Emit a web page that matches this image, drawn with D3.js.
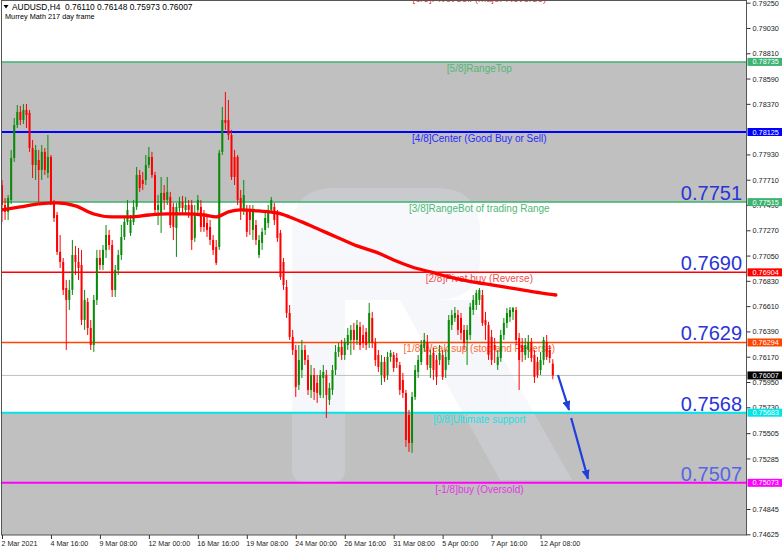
<!DOCTYPE html>
<html><head><meta charset="utf-8">
<script src="https://cdn.jsdelivr.net/npm/d3@7"></script>
<style>
html,body{margin:0;padding:0;background:#fff;}
svg{display:block;font-family:"Liberation Sans",Arial,sans-serif;}
</style></head><body>
<svg id="c" width="782" height="551"></svg>
<script>
// ---------- data ----------
const symbol = "AUDUSD,H4";
const lastOHLC = [0.76110, 0.76148, 0.75973, 0.76007];
const subtitle = "Murrey Math 217 day frame";

const opens = [
0.77664,0.77490,0.77430,0.77534,0.77899,0.78186,0.78300,0.78230,0.78317,0.78291,
0.77986,0.77838,0.77882,0.77795,0.77952,0.77769,0.77908,0.77517,0.77403,0.77082,
0.76995,0.76768,0.76664,0.76751,0.77055,0.76995,0.76968,0.76490,0.76647,0.76420,
0.76272,0.76664,0.77029,0.76968,0.77099,0.77229,0.77142,0.76751,0.76925,0.77055,
0.77212,0.77343,0.77247,0.77343,0.77473,0.77751,0.77708,0.77708,0.77838,0.77908,
0.77751,0.77447,0.77421,0.77595,0.77534,0.77560,0.77473,0.77290,0.77464,0.77517,
0.77447,0.77490,0.77490,0.77203,0.77447,0.77473,0.77386,0.77334,0.77299,0.77186,
0.77125,0.77125,0.77952,0.78230,0.78230,0.78099,0.77908,0.77908,0.77551,0.77447,
0.77447,0.77447,0.77273,0.77316,0.77055,0.77160,0.77273,0.77334,0.77447,0.77473,
0.77421,0.77247,0.76995,0.76777,0.76551,0.76342,0.76229,0.75924,0.76055,0.76229,
0.76142,0.75881,0.76011,0.75942,0.75837,0.75985,0.76011,0.75794,0.75881,0.76055,
0.76212,0.76255,0.76185,0.76272,0.76316,0.76403,0.76316,0.76429,0.76359,0.76386,
0.76290,0.76507,0.76290,0.76185,0.76011,0.76125,0.76011,0.76168,0.76185,0.76159,
0.76098,0.75968,0.75855,0.75663,0.75420,0.75820,0.76038,0.76125,0.76246,0.76299,
0.76072,0.76203,0.76142,0.76142,0.76185,0.76055,0.76142,0.76446,0.76507,0.76533,
0.76507,0.76403,0.76316,0.76359,0.76577,0.76620,0.76664,0.76707,0.76490,0.76446,
0.76342,0.76272,0.76098,0.76159,0.76359,0.76464,0.76516,0.76560,0.76577,0.76333,
0.76272,0.76185,0.76229,0.76299,0.76185,0.76125,0.76055,0.76142,0.76299,0.76229,
0.76110];
const highs = [
0.77708,0.77551,0.77577,0.77969,0.78247,0.78360,0.78352,0.78369,0.78369,0.78317,
0.78056,0.78012,0.77969,0.78012,0.77986,0.78099,0.77925,0.77534,0.77430,0.77229,
0.77029,0.76838,0.76838,0.77186,0.77134,0.77116,0.77099,0.76751,0.76681,0.76490,
0.76707,0.77099,0.77099,0.77142,0.77316,0.77273,0.77186,0.76968,0.77099,0.77316,
0.77377,0.77534,0.77403,0.77534,0.77821,0.77795,0.77778,0.77925,0.77995,0.77952,
0.77778,0.77577,0.77734,0.77664,0.77734,0.77604,0.77508,0.77508,0.77560,0.77569,
0.77560,0.77534,0.77534,0.77490,0.77577,0.77534,0.77447,0.77403,0.77360,0.77229,
0.77186,0.77969,0.78343,0.78474,0.78404,0.78143,0.77969,0.77925,0.77621,0.77708,
0.77490,0.77490,0.77490,0.77360,0.77229,0.77290,0.77430,0.77490,0.77560,0.77508,
0.77447,0.77273,0.77029,0.76838,0.76620,0.76403,0.76272,0.76272,0.76316,0.76272,
0.76185,0.76098,0.76072,0.76011,0.76055,0.76098,0.76055,0.75942,0.76098,0.76272,
0.76290,0.76316,0.76333,0.76420,0.76446,0.76464,0.76490,0.76473,0.76446,0.76420,
0.76638,0.76560,0.76333,0.76229,0.76185,0.76168,0.76212,0.76229,0.76212,0.76203,
0.76125,0.76029,0.75881,0.75707,0.75864,0.76098,0.76185,0.76316,0.76377,0.76359,
0.76229,0.76246,0.76185,0.76272,0.76229,0.76229,0.76533,0.76577,0.76603,0.76577,
0.76551,0.76446,0.76446,0.76638,0.76707,0.76751,0.76768,0.76751,0.76560,0.76473,
0.76403,0.76333,0.76229,0.76403,0.76507,0.76594,0.76603,0.76603,0.76603,0.76377,
0.76333,0.76333,0.76359,0.76333,0.76229,0.76168,0.76212,0.76342,0.76359,0.76272,
0.76148];
const lows = [
0.77343,0.77360,0.77360,0.77499,0.77865,0.78160,0.78186,0.78195,0.78160,0.77952,
0.77725,0.77708,0.77517,0.77708,0.77751,0.77725,0.77490,0.77343,0.77055,0.76942,
0.76707,0.76229,0.76577,0.76707,0.76881,0.76838,0.76446,0.76403,0.76359,0.76229,
0.76212,0.76620,0.76925,0.76925,0.77029,0.77099,0.76690,0.76690,0.76881,0.77012,
0.77186,0.77316,0.77221,0.77316,0.77447,0.77604,0.77621,0.77664,0.77812,0.77725,
0.77403,0.77316,0.77247,0.77447,0.77490,0.77290,0.77186,0.77038,0.77430,0.77412,
0.77403,0.77377,0.77099,0.77169,0.77403,0.77256,0.77256,0.77212,0.77142,0.77055,
0.76968,0.77099,0.77925,0.78143,0.78056,0.77708,0.77664,0.77490,0.77360,0.77403,
0.77212,0.77229,0.77186,0.77142,0.77029,0.77099,0.77229,0.77290,0.77421,0.77316,
0.77169,0.76838,0.76751,0.76507,0.76316,0.76185,0.75820,0.75881,0.75985,0.76098,
0.75837,0.75811,0.75794,0.75768,0.75811,0.75811,0.75637,0.75750,0.75837,0.76011,
0.76168,0.76142,0.76142,0.76229,0.76185,0.76229,0.76272,0.76229,0.76246,0.76229,
0.76246,0.76246,0.76090,0.76038,0.75924,0.75951,0.75968,0.76125,0.76038,0.76072,
0.75837,0.75811,0.75385,0.75342,0.75333,0.75794,0.75985,0.76098,0.76212,0.76055,
0.75985,0.75968,0.75924,0.76098,0.75968,0.75985,0.76098,0.76403,0.76473,0.76359,
0.76316,0.76229,0.76098,0.76316,0.76533,0.76577,0.76620,0.76438,0.76316,0.76142,
0.76098,0.76116,0.76055,0.76125,0.76316,0.76420,0.76473,0.76490,0.76272,0.75881,
0.76125,0.76142,0.76159,0.76125,0.75942,0.75985,0.76011,0.76098,0.76142,0.76116,
0.75973];
const closes = [
0.77490,0.77430,0.77551,0.77899,0.78186,0.78300,0.78230,0.78317,0.78273,0.77986,
0.77838,0.77969,0.77795,0.77952,0.77795,0.77908,0.77517,0.77377,0.77082,0.76995,
0.76751,0.76664,0.76751,0.77055,0.76995,0.76942,0.76490,0.76664,0.76420,0.76272,
0.76664,0.77029,0.76968,0.77099,0.77229,0.77142,0.76751,0.76925,0.77055,0.77212,
0.77343,0.77447,0.77360,0.77473,0.77751,0.77638,0.77673,0.77838,0.77908,0.77751,
0.77447,0.77490,0.77595,0.77534,0.77604,0.77316,0.77299,0.77473,0.77517,0.77464,
0.77490,0.77447,0.77186,0.77421,0.77534,0.77299,0.77299,0.77273,0.77186,0.77099,
0.76986,0.77943,0.78230,0.78204,0.78099,0.77734,0.77734,0.77534,0.77447,0.77577,
0.77256,0.77360,0.77447,0.77186,0.77186,0.77256,0.77377,0.77447,0.77534,0.77360,
0.77203,0.76864,0.76794,0.76551,0.76342,0.76229,0.75907,0.76142,0.76229,0.76142,
0.75881,0.76011,0.75864,0.75855,0.76011,0.76038,0.75837,0.75898,0.76055,0.76212,
0.76255,0.76185,0.76299,0.76359,0.76403,0.76316,0.76446,0.76272,0.76290,0.76272,
0.76551,0.76290,0.76142,0.76081,0.76125,0.75985,0.76168,0.76203,0.76072,0.76125,
0.75881,0.75855,0.75446,0.75420,0.75820,0.76055,0.76142,0.76272,0.76316,0.76098,
0.76185,0.76055,0.75994,0.76203,0.75994,0.76168,0.76490,0.76533,0.76551,0.76403,
0.76377,0.76290,0.76403,0.76603,0.76664,0.76725,0.76751,0.76464,0.76446,0.76185,
0.76142,0.76229,0.76168,0.76359,0.76464,0.76551,0.76577,0.76594,0.76316,0.76142,
0.76212,0.76272,0.76299,0.76159,0.75994,0.76011,0.76142,0.76316,0.76168,0.76159,
0.76007];

// moving average (bar index -> value)
const maIndex = [0,6,12,18,24,30,36,42,48,54,60,66,70,74,78,84,90,94,98,104,110,116,122,128,134,140,146,152,158,164,170,176,181];
const maValues = [0.77447,0.77473,0.77499,0.77508,0.77482,0.77412,0.77386,0.77386,0.77403,0.77412,0.77412,0.77403,0.77386,0.77430,0.77447,0.77438,0.77421,0.77386,0.77343,0.77273,0.77203,0.77134,0.77082,0.77012,0.76951,0.76908,0.76864,0.76829,0.76803,0.76777,0.76751,0.76725,0.76707];

// Murrey math levels
const levelValues = [0.79346,0.78735,0.78125,0.77515,0.76904,0.76294,0.75683,0.75073];
const levelNames = ["[6/8]Pivot sell (major Reverse)","[5/8]RangeTop","[4/8]Center (Good Buy or Sell)","[3/8]RangeBot of trading Range","[2/8]Pivot buy (Reverse)","[1/8]Weak sup (stop and Reverse)","[0/8]Ultimate support","[-1/8]buy (Oversold)"];
const levelColors = ["#ff0000","#3cb371","#0000ff","#3cb371","#ff0000","#ff4500","#00e5e5","#ff00ff"];
const levelTextColors = ["#f04040","#4fb874","#2a2aff","#4fb874","#f05050","#ff6a35","#22e0e0","#e436e4"];
const levelWidths = [1.5,1.5,2,1.5,1.5,1.5,2,2];
const shadeBands = [[0.78735,0.77515],[0.75683,0.74463]];
const currentPrice = 0.76007;

// target labels
const targetLabels = ["0.7751","0.7690","0.7629","0.7568","0.7507"];
const targetValues = [0.77515,0.76904,0.76294,0.75683,0.75073];
const targetColors = ["#2a35d8","#2a35d8","#2a35d8","#2a35d8","#5565e4"];

// forecast arrows [barIndex, price]
const arrowFrom = [[181.7,0.76011],[186.0,0.75637]];
const arrowTo   = [[185.3,0.75707],[191.5,0.75107]];

// axis ticks (labels fully covered by level boxes omitted)
const yTickLabels = ["0.79250","0.79030","0.78810","0.78590","0.78370","0.77930","0.77710","0.77490","0.77270","0.77050","0.76830","0.76610","0.76390","0.76170","0.75950","0.75730","0.75505","0.75285","0.74845","0.74625"];
const xTickLabels = ["2 Mar 2021","4 Mar 16:00","9 Mar 08:00","12 Mar 00:00","16 Mar 16:00","19 Mar 08:00","24 Mar 00:00","26 Mar 16:00","31 Mar 08:00","5 Apr 00:00","7 Apr 16:00","12 Apr 08:00"];
const xTickIndex = [0,16,32,48,64,80,96,112,128,144,160,176];

// ---------- drawing ----------
const svg = d3.select("#c");
const plot = {left:1.5, right:746.5, top:0.5, bottom:535};
const x = d3.scaleLinear().domain([0,243]).range([2, 2+3.06*243]);
const y = d3.scaleLinear().domain([0.74625,0.79250]).range([534.3,2.7]);
const labelBar = 156;

svg.append("rect").attr("width",782).attr("height",551).attr("fill","#fff");
const defs = svg.append("defs");
defs.append("clipPath").attr("id","pc").append("rect")
  .attr("x",plot.left).attr("y",plot.top).attr("width",plot.right-plot.left).attr("height",plot.bottom-plot.top);
defs.append("marker").attr("id","ah").attr("viewBox","0 0 10 8").attr("refX",9).attr("refY",4)
  .attr("markerWidth",10).attr("markerHeight",8).attr("markerUnits","userSpaceOnUse").attr("orient","auto")
  .append("path").attr("d","M0,0 L10,4 L0,8 Z").attr("fill","#1f3fdb");

const g = svg.append("g").attr("clip-path","url(#pc)");

// shaded bands
g.selectAll("rect.band").data(shadeBands).join("rect").attr("class","band")
  .attr("x",plot.left).attr("width",plot.right-plot.left)
  .attr("y",d=>y(d[0])).attr("height",d=>y(d[1])-y(d[0])).attr("fill","#c0c0c0");

// watermark (very faint logo)
const wm = g.append("g").attr("fill","#dfe5ef").attr("opacity",0.28);
wm.append("path").attr("d","M292,230 Q292,188 334,188 L436,188 Q480,188 480,232 L480,258 Q480,300 436,300 L345,300 L345,470 Q345,482 333,482 L304,482 Q292,482 292,470 Z");
wm.append("path").attr("d","M400,300 L470,300 L572,480 L500,480 Z");

// current price line
g.append("line").attr("x1",plot.left).attr("x2",plot.right)
  .attr("y1",y(currentPrice)).attr("y2",y(currentPrice)).attr("stroke","#c0c0c0").attr("stroke-width",1);

// level lines
g.selectAll("line.lvl").data(levelValues).join("line").attr("class","lvl")
  .attr("x1",plot.left).attr("x2",plot.right)
  .attr("y1",d=>y(d)).attr("y2",d=>y(d))
  .attr("stroke",(d,i)=>levelColors[i]).attr("stroke-width",(d,i)=>levelWidths[i]);

// level names
g.selectAll("text.lvlname").data(levelValues).join("text").attr("class","lvlname")
  .attr("x",x(labelBar)).attr("y",d=>y(d)+10).attr("text-anchor","middle")
  .attr("font-size",10).attr("fill",(d,i)=>levelTextColors[i]).text((d,i)=>levelNames[i]);

// candles
const bars = d3.range(closes.length).map(i=>({i,o:opens[i],h:highs[i],l:lows[i],c:closes[i]}));
const cg = g.append("g");
cg.selectAll("line.wick").data(bars).join("line").attr("class","wick")
  .attr("x1",d=>x(d.i)).attr("x2",d=>x(d.i)).attr("y1",d=>y(d.h)).attr("y2",d=>y(d.l))
  .attr("stroke",d=>d.c>=d.o?"#0a8a0a":"#ff0000").attr("stroke-width",1);
cg.selectAll("rect.body").data(bars).join("rect").attr("class","body")
  .attr("x",d=>x(d.i)-1).attr("width",2)
  .attr("y",d=>y(Math.max(d.o,d.c))).attr("height",d=>Math.max(1,Math.abs(y(d.o)-y(d.c))))
  .attr("fill",d=>d.c>=d.o?"#0a8a0a":"#ff0000");

// moving average
g.append("path").datum(maIndex.map((k,j)=>[k,maValues[j]]))
  .attr("d",d3.line().x(d=>x(d[0])).y(d=>y(d[1])).curve(d3.curveMonotoneX))
  .attr("fill","none").attr("stroke","#ff0000").attr("stroke-width",3.3).attr("stroke-linecap","round");

// big target labels
g.selectAll("text.tgt").data(targetValues).join("text").attr("class","tgt")
  .attr("x",plot.right-4.5).attr("y",d=>y(d)-2).attr("text-anchor","end")
  .attr("font-size",20).attr("fill",(d,i)=>targetColors[i]).text((d,i)=>targetLabels[i]);

// arrows
g.selectAll("line.arr").data(arrowFrom).join("line").attr("class","arr")
  .attr("x1",d=>x(d[0])).attr("y1",d=>y(d[1]))
  .attr("x2",(d,i)=>x(arrowTo[i][0])).attr("y2",(d,i)=>y(arrowTo[i][1]))
  .attr("stroke","#1f3fdb").attr("stroke-width",2.2).attr("marker-end","url(#ah)");

// frame
svg.append("rect").attr("x",plot.left).attr("y",plot.top)
  .attr("width",plot.right-plot.left).attr("height",plot.bottom-plot.top)
  .attr("fill","none").attr("stroke","#555").attr("stroke-width",1);

// right axis
const yAxis = d3.axisRight(y).tickValues(yTickLabels.map(Number))
  .tickFormat((d,i)=>yTickLabels[i]).tickSize(4).tickPadding(2);
const ya = svg.append("g").attr("transform",`translate(${plot.right},0)`).call(yAxis);
ya.select(".domain").remove();
ya.selectAll("line").attr("stroke","#333");
ya.selectAll("text").attr("font-size",7.3).attr("fill","#222").attr("font-family","Liberation Sans, Arial").attr("dy","0.35em");

// level value boxes on axis
const boxVals = levelValues.slice(1).concat([currentPrice]);
const boxCols = levelColors.slice(1).concat(["#000000"]);
const bg = svg.append("g");
bg.selectAll("rect").data(boxVals).join("rect")
  .attr("x",plot.right+1).attr("width",782-plot.right-1)
  .attr("y",d=>y(d)-4).attr("height",8).attr("fill",(d,i)=>boxCols[i]);
bg.selectAll("text").data(boxVals).join("text")
  .attr("x",plot.right+6).attr("y",d=>y(d)+2.6).attr("font-size",7.3).attr("fill","#fff")
  .text(d=>d.toFixed(5));

// x axis
const xAxis = d3.axisBottom(x).tickValues(xTickIndex).tickFormat((d,i)=>xTickLabels[i]).tickSize(4).tickPadding(2);
const xa = svg.append("g").attr("transform",`translate(0,${plot.bottom})`).call(xAxis);
xa.select(".domain").remove();
xa.selectAll("line").attr("stroke","#333");
xa.selectAll("text").attr("text-anchor","start").attr("font-size",7.1).attr("fill","#222")
  .attr("font-family","Liberation Sans, Arial").attr("dx",-1);

// header
svg.append("path").attr("d","M3.5,5 L8.5,5 L6,8.5 Z").attr("fill","#000");
svg.append("text").attr("x",12).attr("y",9.5).attr("font-size",8.4).attr("fill","#000")
  .style("white-space","pre").text(symbol+"  "+lastOHLC.map(v=>v.toFixed(5)).join(" "));
svg.append("text").attr("x",5).attr("y",19).attr("font-size",7.3).attr("fill","#000").text(subtitle);
</script>
</body></html>
